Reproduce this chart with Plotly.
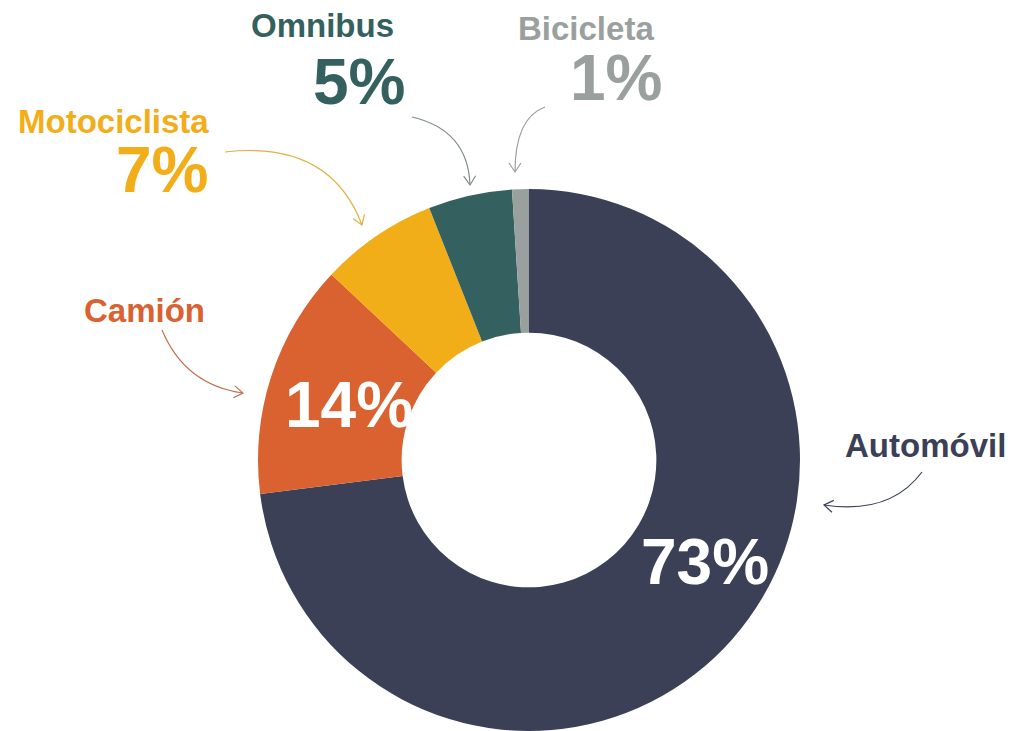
import plotly.graph_objects as go

W, H = 1014, 731
OFF = 8  # page body margin

categories = ["Automóvil", "Camión", "Motociclista", "Omnibus", "Bicicleta"]
values = [73, 14, 7, 5, 1]
colors = ["#3B4057", "#D96230", "#F2AE19", "#346160", "#9AA09E"]

FONT = "Liberation Sans, Arial, sans-serif"

def px(x, y):
    return (x - OFF) / W, 1 - (y - OFF) / H

cx, cy, R = 529, 460, 271
dx0, dy_top = px(cx - R, cy - R)
dx1, dy_bot = px(cx + R, cy + R)

fig = go.Figure(go.Pie(
    labels=categories, values=values, sort=False, direction="clockwise", rotation=0,
    hole=0.47, marker=dict(colors=colors, line=dict(width=0)),
    textinfo="none", hoverinfo="label+percent", showlegend=False,
    domain=dict(x=[dx0, dx1], y=[dy_bot, dy_top]),
))

annotations = []
def text(x, y, s, size, color):
    ax, ay = px(x, y)
    annotations.append(dict(x=ax, y=ay, xref="paper", yref="paper", text=f"<b>{s}</b>",
                            showarrow=False, xanchor="center", yanchor="middle",
                            font=dict(family=FONT, size=size, color=color)))

pct = {c: f"{v}%" for c, v in zip(categories, values)}
col = dict(zip(categories, colors))

LS, PS = 33, 64
text(322, 26, "Omnibus", LS, col["Omnibus"])
text(359, 82, pct["Omnibus"], PS, col["Omnibus"])
text(586, 29, "Bicicleta", LS, col["Bicicleta"])
text(616, 78, pct["Bicicleta"], PS, col["Bicicleta"])
text(113, 122, "Motociclista", LS, col["Motociclista"])
text(162, 170, pct["Motociclista"], PS, col["Motociclista"])
text(144, 310, "Camión", LS, col["Camión"])
text(925, 445, "Automóvil", LS, col["Automóvil"])
text(349, 405, pct["Camión"], PS, "white")
text(705, 562, pct["Automóvil"], PS, "white")

# curved arrows (pixel coords: start, control, end)
arrows = [
    ((545, 107), (515, 118), (515, 172), "#9AA09E"),
    ((412, 117), (468, 130), (470, 185), "#7F8C8A"),
    ((225, 152), (330, 140), (362, 225), "#E0B040"),
    ((162, 330), (185, 385), (243, 393), "#C07050"),
    ((922, 472), (890, 515), (824, 505), "#3B4057"),
]
shapes = []
for (s, c, e, color) in arrows:
    x0, y0 = px(*s); x1, y1 = px(*c); x2, y2 = px(*e)
    shapes.append(dict(type="path", xref="paper", yref="paper",
                       path=f"M {x0},{y0} Q {x1},{y1} {x2},{y2}",
                       line=dict(color=color, width=1.2)))
    ddx, ddy = e[0] - c[0], e[1] - c[1]
    n = (ddx * ddx + ddy * ddy) ** 0.5
    ux, uy = ddx / n, ddy / n
    nx, ny = -uy, ux
    L, Wd = 9, 6
    p1 = (e[0] - L * ux + Wd * nx, e[1] - L * uy + Wd * ny)
    p2 = (e[0] - L * ux - Wd * nx, e[1] - L * uy - Wd * ny)
    a1 = px(*p1); a2 = px(*p2)
    shapes.append(dict(type="path", xref="paper", yref="paper",
                       path=f"M {a1[0]},{a1[1]} L {x2},{y2} L {a2[0]},{a2[1]}",
                       line=dict(color=color, width=1.2)))

fig.update_layout(width=W, height=H, margin=dict(l=0, r=0, t=0, b=0),
                  paper_bgcolor="white", plot_bgcolor="white",
                  annotations=annotations, shapes=shapes)
fig.write_html("out.html")
